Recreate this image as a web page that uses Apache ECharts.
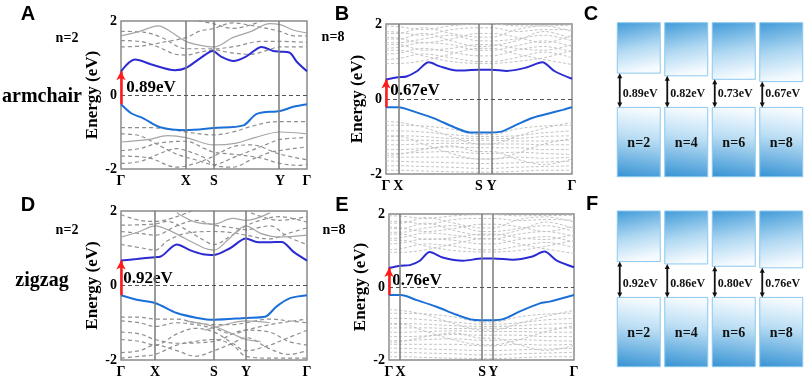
<!DOCTYPE html>
<html>
<head>
<meta charset="utf-8">
<script src="https://cdn.jsdelivr.net/npm/echarts@6.0.0/dist/echarts.min.js"></script>
<style>
  html, body { margin: 0; padding: 0; background: #fff; }
  #chart { width: 809px; height: 379px; }
</style>
</head>
<body>
<div id="chart"></div>
<script>
// k-path labels and positions (fraction of path length)
const kLabels = ['Γ', 'X', 'S', 'Y', 'Γ']
const kA = [0, 0.349, 0.5, 0.855, 1]
const kB = [0, 0.066, 0.5, 0.568, 1]
const kD = [0, 0.183, 0.5, 0.672, 1]
const kE = [0, 0.063, 0.504, 0.564, 1]

// band edges [k, E]
const cbA = [[0, 0.64], [0.075, 0.96], [0.174, 0.81], [0.29, 0.67], [0.349, 0.73], [0.425, 0.99], [0.493, 1.19], [0.541, 1.03], [0.604, 0.92], [0.676, 1.05], [0.756, 1.3], [0.819, 1.19], [0.855, 1.17], [0.905, 1.15], [0.945, 0.9], [1, 0.64]]
const vbA = [[0, -0.25], [0.057, -0.5], [0.12, -0.63], [0.21, -0.87], [0.349, -0.95], [0.5, -0.89], [0.658, -0.82], [0.73, -0.51], [0.855, -0.43], [0.926, -0.32], [1, -0.25]]
const cbB = [[0, 0.52], [0.066, 0.58], [0.11, 0.6], [0.166, 0.74], [0.23, 0.98], [0.29, 0.87], [0.38, 0.76], [0.5, 0.78], [0.568, 0.78], [0.65, 0.75], [0.755, 0.84], [0.84, 0.98], [0.907, 0.74], [1, 0.54]]
const vbB = [[0, -0.22], [0.066, -0.22], [0.148, -0.33], [0.255, -0.51], [0.38, -0.78], [0.45, -0.89], [0.5, -0.89], [0.568, -0.89], [0.62, -0.87], [0.7, -0.69], [0.79, -0.5], [0.88, -0.38], [0.95, -0.29], [1, -0.22]]
const cbD = [[0, 0.67], [0.084, 0.71], [0.183, 0.76], [0.21, 0.77], [0.3, 1.1], [0.37, 0.95], [0.44, 0.84], [0.5, 0.82], [0.586, 1.0], [0.672, 1.26], [0.73, 1.17], [0.79, 1.16], [0.864, 1.17], [0.926, 0.91], [1, 0.67]]
const vbD = [[0, -0.26], [0.084, -0.38], [0.183, -0.47], [0.3, -0.74], [0.41, -0.87], [0.5, -0.92], [0.672, -0.87], [0.774, -0.84], [0.837, -0.56], [0.909, -0.34], [1, -0.26]]
const cbE = [[0, 0.52], [0.063, 0.58], [0.113, 0.6], [0.167, 0.72], [0.22, 0.96], [0.29, 0.81], [0.4, 0.72], [0.504, 0.78], [0.564, 0.78], [0.67, 0.75], [0.77, 0.83], [0.84, 0.97], [0.905, 0.73], [1, 0.54]]
const vbE = [[0, -0.22], [0.063, -0.22], [0.15, -0.36], [0.257, -0.54], [0.365, -0.76], [0.455, -0.9], [0.504, -0.91], [0.564, -0.91], [0.617, -0.88], [0.707, -0.67], [0.815, -0.45], [0.869, -0.4], [1, -0.22]]

// other bands, n=2 (dashed / solid)
const grayA = [
  [[0, 1.72], [0.12, 1.7], [0.22, 1.55], [0.349, 1.25], [0.5, 1.25], [0.62, 1.32], [0.75, 1.45], [0.855, 1.45], [1, 1.42]],
  [[0, 1.3], [0.12, 1.33], [0.25, 1.45], [0.349, 1.55], [0.42, 1.72], [0.5, 1.8], [0.6, 1.95], [0.7, 1.88], [0.855, 1.72], [0.93, 1.6], [1, 1.6]],
  [[0, 1.47], [0.1, 1.45], [0.2, 1.3], [0.28, 1.12], [0.349, 1.08], [0.42, 1.15], [0.5, 1.22], [0.58, 1.15], [0.7, 1.1], [0.78, 1.2], [0.855, 1.3], [1, 1.3]],
  [[0.38, 2.05], [0.5, 1.92], [0.6, 1.8], [0.7, 1.9], [0.78, 2.05]],
  [[0, -0.88], [0.15, -0.88], [0.25, -0.92], [0.349, -1.0], [0.5, -1.08], [0.6, -1.0], [0.7, -0.85], [0.78, -0.75], [0.855, -0.72], [1, -0.72]],
  [[0, -1.05], [0.1, -1.1], [0.2, -1.35], [0.3, -1.6], [0.4, -1.75], [0.5, -1.88], [0.6, -1.7], [0.7, -1.5], [0.8, -1.3], [0.855, -1.2], [1, -1.15]],
  [[0, -1.5], [0.1, -1.45], [0.2, -1.3], [0.349, -1.25], [0.45, -1.45], [0.5, -1.55], [0.6, -1.6], [0.75, -1.7], [0.855, -1.85], [0.95, -1.9], [1, -1.88]],
  [[0, -1.85], [0.1, -1.8], [0.2, -1.6], [0.3, -1.45], [0.349, -1.5], [0.45, -1.7], [0.5, -1.9], [0.6, -1.95], [0.7, -1.75], [0.8, -1.55], [0.855, -1.5], [1, -1.4]],
  [[0, -1.65], [0.15, -1.7], [0.3, -1.95], [0.4, -1.85], [0.5, -1.65], [0.6, -1.4], [0.7, -1.35], [0.855, -1.6], [1, -1.75]]
]
const graySolidA = [
  [[0, 1.6], [0.1, 1.72], [0.2, 1.87], [0.27, 1.7], [0.349, 1.45], [0.42, 1.35], [0.5, 1.3], [0.6, 1.55], [0.7, 1.72], [0.8, 1.93], [0.855, 1.9], [0.93, 1.75], [1, 1.68]],
  [[0, -1.27], [0.15, -1.2], [0.25, -1.1], [0.349, -1.15], [0.5, -1.35], [0.62, -1.3], [0.72, -1.15], [0.855, -1.0], [1, -1.05]]
]
const grayD = [
  [[0, 1.62], [0.183, 1.65], [0.25, 1.72], [0.35, 1.5], [0.45, 1.2], [0.5, 1.1], [0.58, 1.3], [0.672, 1.6], [0.75, 1.75], [0.85, 1.85], [1, 1.7]],
  [[0, 1.45], [0.1, 1.4], [0.183, 1.35], [0.3, 1.6], [0.4, 1.75], [0.5, 1.62], [0.6, 1.55], [0.672, 1.5], [0.8, 1.6], [0.9, 1.3], [1, 1.1]],
  [[0, 1.1], [0.12, 1.0], [0.183, 0.95], [0.25, 1.2], [0.35, 1.4], [0.5, 1.45], [0.6, 1.42], [0.672, 1.35], [0.8, 1.25], [0.9, 1.4], [1, 1.55]],
  [[0, 1.9], [0.1, 1.75], [0.183, 1.72], [0.3, 1.85], [0.4, 2.05]],
  [[0.7, 1.95], [0.85, 1.75], [1, 1.85]],
  [[0, -0.85], [0.1, -0.85], [0.183, -0.9], [0.3, -0.9], [0.4, -1.0], [0.5, -1.05], [0.6, -1.05], [0.672, -1.0], [0.8, -0.9], [0.9, -0.95], [1, -1.0]],
  [[0, -0.95], [0.1, -1.0], [0.183, -1.1], [0.3, -1.0], [0.4, -1.05], [0.5, -1.15], [0.6, -1.3], [0.672, -1.2], [0.8, -1.05], [1, -0.9]],
  [[0, -1.45], [0.1, -1.5], [0.183, -1.6], [0.3, -1.3], [0.4, -1.15], [0.5, -1.25], [0.6, -1.55], [0.672, -1.75], [0.8, -1.6], [0.9, -1.4], [1, -1.2]],
  [[0, -1.8], [0.1, -1.75], [0.183, -1.6], [0.3, -1.75], [0.4, -1.9], [0.5, -1.75], [0.6, -1.55], [0.672, -1.4], [0.8, -1.7], [0.9, -1.85], [1, -1.75]],
  [[0, -1.95], [0.1, -1.9], [0.183, -1.85], [0.3, -1.6], [0.4, -1.5], [0.5, -1.45], [0.6, -1.6], [0.672, -1.9], [0.8, -1.95], [1, -1.95]],
  [[0, -1.25], [0.1, -1.3], [0.183, -1.45], [0.3, -1.55], [0.5, -1.5], [0.672, -1.2], [0.8, -1.25], [0.9, -1.5], [1, -1.6]]
]
const graySolidD = [
  [[0, 1.3], [0.1, 1.45], [0.183, 1.6], [0.25, 1.5], [0.35, 1.25], [0.45, 1.0], [0.5, 0.95], [0.58, 1.25], [0.672, 1.6], [0.75, 1.4], [0.85, 1.3], [1, 1.35]],
  [[0.3, 1.95], [0.4, 1.7], [0.5, 1.65], [0.6, 1.8], [0.672, 1.75], [0.8, 1.95]],
  [[0.35, -0.95], [0.5, -1.1], [0.6, -1.3], [0.672, -1.45], [0.75, -1.5]],
  [[0.45, -1.2], [0.6, -1.0], [0.672, -0.95], [0.8, -1.0]]
]

// other bands, n=8: energies at shared k knots
const knotsB = [0, 0.066, 0.2, 0.35, 0.5, 0.568, 0.7, 0.85, 1]
const knotsE = [0, 0.063, 0.2, 0.35, 0.504, 0.564, 0.7, 0.85, 1]
const grayB = [
  [1.05, 1.08, 1.2, 1.1, 1.0, 1.0, 1.1, 1.25, 1.1],
  [1.2, 1.22, 1.35, 1.25, 1.15, 1.15, 1.3, 1.4, 1.25],
  [1.35, 1.38, 1.5, 1.45, 1.3, 1.3, 1.42, 1.55, 1.4],
  [1.5, 1.5, 1.6, 1.7, 1.55, 1.55, 1.6, 1.7, 1.55],
  [1.65, 1.62, 1.5, 1.6, 1.75, 1.75, 1.65, 1.5, 1.7],
  [1.8, 1.78, 1.7, 1.85, 1.9, 1.9, 1.8, 1.85, 1.85],
  [1.95, 1.93, 1.85, 1.95, 2.0, 2.0, 1.95, 1.95, 1.97],
  [1.6, 1.6, 1.75, 1.55, 1.4, 1.42, 1.55, 1.8, 1.6],
  [0.95, 0.95, 1.02, 1.2, 1.35, 1.35, 1.2, 1.05, 0.92],
  [1.3, 1.3, 1.15, 1.0, 0.95, 0.95, 1.0, 1.1, 1.3],
  [1.45, 1.45, 1.3, 1.35, 1.45, 1.45, 1.35, 1.3, 1.45],
  [1.75, 1.75, 1.9, 1.75, 1.65, 1.65, 1.85, 1.95, 1.8],
  [-0.7, -0.7, -0.72, -0.8, -0.95, -0.95, -0.8, -0.72, -0.7],
  [-0.85, -0.85, -0.88, -0.95, -1.0, -1.0, -0.98, -0.9, -0.85],
  [-0.98, -0.98, -1.0, -1.05, -1.05, -1.05, -1.05, -1.0, -0.98],
  [-1.1, -1.1, -1.1, -1.12, -1.1, -1.1, -1.12, -1.12, -1.1],
  [-1.22, -1.22, -1.2, -1.18, -1.2, -1.2, -1.2, -1.22, -1.22],
  [-1.35, -1.35, -1.32, -1.28, -1.3, -1.3, -1.3, -1.35, -1.35],
  [-1.45, -1.45, -1.42, -1.4, -1.45, -1.45, -1.42, -1.45, -1.48],
  [-1.55, -1.55, -1.55, -1.55, -1.6, -1.6, -1.55, -1.58, -1.55],
  [-1.65, -1.66, -1.68, -1.7, -1.72, -1.72, -1.7, -1.68, -1.66],
  [-1.78, -1.78, -1.8, -1.82, -1.85, -1.85, -1.82, -1.8, -1.78],
  [-1.9, -1.9, -1.92, -1.94, -1.95, -1.95, -1.93, -1.9, -1.9],
  [-0.6, -0.62, -0.75, -1.0, -1.2, -1.2, -1.0, -0.78, -0.62],
  [-1.0, -1.0, -1.2, -1.45, -1.6, -1.6, -1.45, -1.2, -1.05],
  [-1.5, -1.48, -1.35, -1.25, -1.4, -1.4, -1.6, -1.75, -1.6]
]
const grayE = [
  [1.02, 1.05, 1.18, 1.12, 1.02, 1.02, 1.12, 1.22, 1.08],
  [1.18, 1.2, 1.32, 1.28, 1.18, 1.18, 1.3, 1.38, 1.22],
  [1.33, 1.35, 1.48, 1.42, 1.32, 1.32, 1.45, 1.52, 1.38],
  [1.5, 1.5, 1.62, 1.68, 1.52, 1.52, 1.6, 1.68, 1.52],
  [1.65, 1.62, 1.52, 1.6, 1.72, 1.72, 1.65, 1.52, 1.68],
  [1.8, 1.8, 1.72, 1.85, 1.88, 1.88, 1.82, 1.85, 1.83],
  [1.95, 1.94, 1.88, 1.95, 1.98, 1.98, 1.95, 1.96, 1.96],
  [1.6, 1.6, 1.75, 1.55, 1.42, 1.42, 1.55, 1.78, 1.6],
  [0.95, 0.95, 1.02, 1.18, 1.32, 1.32, 1.18, 1.04, 0.92],
  [1.28, 1.28, 1.12, 1.0, 0.96, 0.96, 1.0, 1.12, 1.28],
  [1.45, 1.45, 1.3, 1.35, 1.45, 1.45, 1.35, 1.3, 1.45],
  [1.75, 1.75, 1.9, 1.75, 1.62, 1.62, 1.85, 1.92, 1.78],
  [-0.72, -0.72, -0.74, -0.82, -0.96, -0.96, -0.82, -0.74, -0.72],
  [-0.86, -0.86, -0.9, -0.96, -1.02, -1.02, -0.98, -0.9, -0.86],
  [-1.0, -1.0, -1.02, -1.06, -1.08, -1.08, -1.06, -1.02, -1.0],
  [-1.12, -1.12, -1.12, -1.14, -1.13, -1.13, -1.14, -1.13, -1.12],
  [-1.24, -1.24, -1.22, -1.2, -1.22, -1.22, -1.22, -1.24, -1.24],
  [-1.36, -1.36, -1.34, -1.3, -1.32, -1.32, -1.32, -1.36, -1.36],
  [-1.47, -1.47, -1.44, -1.42, -1.46, -1.46, -1.44, -1.47, -1.48],
  [-1.57, -1.57, -1.57, -1.57, -1.61, -1.61, -1.57, -1.59, -1.57],
  [-1.67, -1.68, -1.7, -1.72, -1.74, -1.74, -1.72, -1.7, -1.68],
  [-1.79, -1.79, -1.81, -1.83, -1.86, -1.86, -1.83, -1.81, -1.79],
  [-1.91, -1.91, -1.93, -1.95, -1.96, -1.96, -1.94, -1.91, -1.91],
  [-0.62, -0.64, -0.76, -1.0, -1.18, -1.18, -1.0, -0.8, -0.64],
  [-1.02, -1.02, -1.22, -1.45, -1.58, -1.58, -1.45, -1.22, -1.06],
  [-1.52, -1.5, -1.36, -1.26, -1.4, -1.4, -1.58, -1.74, -1.6]
]

// band gaps for panels C and F
const nLabels = ['n=2', 'n=4', 'n=6', 'n=8']
const gapsArm = [0.89, 0.82, 0.73, 0.67]
const gapsZig = [0.92, 0.86, 0.80, 0.76]

const SERIF = '"Liberation Serif", "Times New Roman", serif'
const SANS = '"Liberation Sans", Arial, sans-serif'
const CB_COLOR = '#2b2bd3'
const VB_COLOR = '#1b70d8'

const panels = [
  { k: kA, cb: cbA, vb: vbA, dash: grayA, solid: graySolidA, dense: false },
  { k: kB, cb: cbB, vb: vbB, dash: grayB.map(b => b.map((e, i) => [knotsB[i], e])), solid: [], dense: true },
  { k: kD, cb: cbD, vb: vbD, dash: grayD, solid: graySolidD, dense: false },
  { k: kE, cb: cbE, vb: vbE, dash: grayE.map(b => b.map((e, i) => [knotsE[i], e])), solid: [], dense: true }
]

const grids = [
  { left: 121, top: 21, width: 186, height: 148 },
  { left: 386, top: 24, width: 186, height: 150 },
  { left: 121, top: 211, width: 186, height: 150 },
  { left: 389, top: 214, width: 185, height: 149 },
  { left: 615, top: 22.7, width: 190, height: 154 },
  { left: 615, top: 211, width: 190, height: 155.7 }
].map((g, i) => Object.assign(g, i < 4
  ? { show: true, borderColor: '#8a8a8a', borderWidth: 1.5, backgroundColor: 'transparent' }
  : {}))

const xAxes = []
const yAxes = []
const series = []

panels.forEach((p, gi) => {
  xAxes.push({
    type: 'value', gridIndex: gi, min: 0, max: 1,
    axisLine: { show: false }, axisTick: { show: false }, splitLine: { show: false },
    axisLabel: {
      customValues: p.k, margin: 5,
      color: '#000', fontFamily: SERIF, fontWeight: 'bold', fontSize: 14,
      formatter: v => {
        let best = 0
        p.k.forEach((kv, i) => { if (Math.abs(kv - v) < Math.abs(p.k[best] - v)) best = i })
        return kLabels[best]
      }
    }
  })
  yAxes.push({
    type: 'value', gridIndex: gi, min: -2, max: 2, interval: 2,
    name: 'Energy (eV)', nameLocation: 'middle', nameGap: 18,
    nameTextStyle: { color: '#000', fontFamily: SERIF, fontWeight: 'bold', fontSize: 17 },
    axisLine: { show: false }, axisTick: { show: false }, splitLine: { show: false },
    axisLabel: { margin: 4, color: '#000', fontFamily: SERIF, fontWeight: 'bold', fontSize: 14 }
  })

  const grayColor = p.dense ? '#c4c4c4' : '#8e8e8e'
  p.dash.forEach(b => series.push({
    type: 'line', xAxisIndex: gi, yAxisIndex: gi, data: b, showSymbol: false, smooth: 0.35, silent: true, z: 1,
    lineStyle: { color: grayColor, width: p.dense ? 1 : 1.2, type: p.dense ? [3, 2] : [4, 3] }
  }))
  p.solid.forEach(b => series.push({
    type: 'line', xAxisIndex: gi, yAxisIndex: gi, data: b, showSymbol: false, smooth: 0.35, silent: true, z: 1,
    lineStyle: { color: '#a6a6a6', width: 1.2 }
  }))

  // valence band + k-point lines + Fermi level
  series.push({
    type: 'line', xAxisIndex: gi, yAxisIndex: gi, data: p.vb, showSymbol: false, smooth: 0.3, silent: true, z: 4,
    lineStyle: { color: VB_COLOR, width: 2 },
    markLine: {
      silent: true, symbol: 'none', label: { show: false }, animation: false,
      data: p.k.slice(1, -1).map(v => ({ xAxis: v, lineStyle: { color: '#7a7a7a', width: 1.5, type: 'solid' } }))
        .concat([{ yAxis: 0, lineStyle: { color: '#555', width: 1, type: [4, 3] } }])
    }
  })
  // conduction band + gap arrow
  series.push({
    type: 'line', xAxisIndex: gi, yAxisIndex: gi, data: p.cb, showSymbol: false, smooth: 0.3, silent: true, z: 4,
    lineStyle: { color: CB_COLOR, width: 2 },
    markLine: {
      silent: true, label: { show: false }, animation: false,
      symbol: ['none', 'arrow'], symbolSize: [7, 9],
      lineStyle: { color: '#ff1a1a', width: 2.5, type: 'solid' },
      data: [[{ coord: [0, p.vb[0][1]] }, { coord: [0, p.cb[0][1]] }]]
    }
  })
})

// gap schematic panels C, F
const boxRanges = [[-1.8, 2.2], [-1.78, 2.22]]
const boxSets = [gapsArm, gapsZig]
const upperGrad = () => new echarts.graphic.LinearGradient(0, 0, 0.25, 1, [
  { offset: 0, color: '#3f9ad8' }, { offset: 0.55, color: '#b0d8f2' }, { offset: 1, color: '#f6fbff' }])
const lowerGrad = () => new echarts.graphic.LinearGradient(0.25, 0, 0, 1, [
  { offset: 0, color: '#f6fbff' }, { offset: 0.4, color: '#bbdef4' }, { offset: 1, color: '#3592d4' }])

boxSets.forEach((gaps, j) => {
  const gi = 4 + j
  const [yMin, yMax] = boxRanges[j]
  xAxes.push({ type: 'category', gridIndex: gi, data: nLabels, show: false })
  yAxes.push({ type: 'value', gridIndex: gi, min: yMin, max: yMax, show: false })
  series.push({
    type: 'custom', xAxisIndex: gi, yAxisIndex: gi, clip: false, silent: true,
    data: gaps.map((g, i) => [i, g]),
    encode: { x: 0, y: 1 },
    renderItem: (params, api) => {
      const i = api.value(0), gap = api.value(1)
      const bw = api.size([1, 0])[0] * 0.905
      const top = api.coord([i, yMax]), cbm = api.coord([i, gap])
      const vbm = api.coord([i, 0]), bot = api.coord([i, yMin])
      const left = top[0] - bw / 2
      const ax = left + 2.5
      const txtY = api.coord([i, 0.35])[1]
      const nY = api.coord([i, -0.93])[1]
      return {
        type: 'group',
        children: [
          { type: 'rect', shape: { x: left, y: top[1], width: bw, height: cbm[1] - top[1] },
            style: { fill: upperGrad(), stroke: '#8cc8ee', lineWidth: 1 } },
          { type: 'rect', shape: { x: left, y: vbm[1], width: bw, height: bot[1] - vbm[1] },
            style: { fill: lowerGrad(), stroke: '#8cc8ee', lineWidth: 1 } },
          { type: 'line', shape: { x1: ax, y1: cbm[1] + 4, x2: ax, y2: vbm[1] - 4 },
            style: { stroke: '#111', lineWidth: 1.8 } },
          { type: 'polygon', shape: { points: [[ax, cbm[1]], [ax - 2.5, cbm[1] + 5], [ax + 2.5, cbm[1] + 5]] },
            style: { fill: '#111' } },
          { type: 'polygon', shape: { points: [[ax, vbm[1]], [ax - 2.5, vbm[1] - 5], [ax + 2.5, vbm[1] - 5]] },
            style: { fill: '#111' } },
          { type: 'text', x: ax + 3, y: txtY,
            style: { text: gap.toFixed(2) + 'eV', fill: '#111', font: 'bold 12px ' + SERIF, align: 'left', verticalAlign: 'middle' } },
          { type: 'text', x: top[0], y: nY,
            style: { text: nLabels[i], fill: '#111', font: 'bold 14px ' + SERIF, align: 'center', verticalAlign: 'middle' } }
        ]
      }
    }
  })
})

const txt = (text, x, y, font) => ({
  type: 'text', x, y, silent: true,
  style: { text, font, fill: '#000', align: 'center', verticalAlign: 'middle' }
})
const letterFont = 'bold 20px ' + SANS
const gapFont = 'bold 17px ' + SERIF

const chart = echarts.init(document.getElementById('chart'))
chart.setOption({
  animation: false,
  backgroundColor: '#fff',
  grid: grids,
  xAxis: xAxes,
  yAxis: yAxes,
  series,
  graphic: [
    txt('A', 28, 14, letterFont), txt('B', 342, 14, letterFont), txt('C', 591, 14, letterFont),
    txt('D', 28, 205, letterFont), txt('E', 342, 205, letterFont), txt('F', 592, 204, letterFont),
    txt('n=2', 67, 38, 'bold 14px ' + SERIF), txt('n=8', 333, 37, 'bold 14px ' + SERIF),
    txt('n=2', 67, 230, 'bold 14px ' + SERIF), txt('n=8', 334, 230, 'bold 14px ' + SERIF),
    txt('armchair', 42, 97, 'bold 20px ' + SERIF), txt('zigzag', 42, 281, 'bold 20px ' + SERIF),
    txt('0.89eV', 151, 88, gapFont), txt('0.67eV', 415, 91, gapFont),
    txt('0.92eV', 148, 279, gapFont), txt('0.76eV', 417, 281, gapFont)
  ]
})
</script>
</body>
</html>
